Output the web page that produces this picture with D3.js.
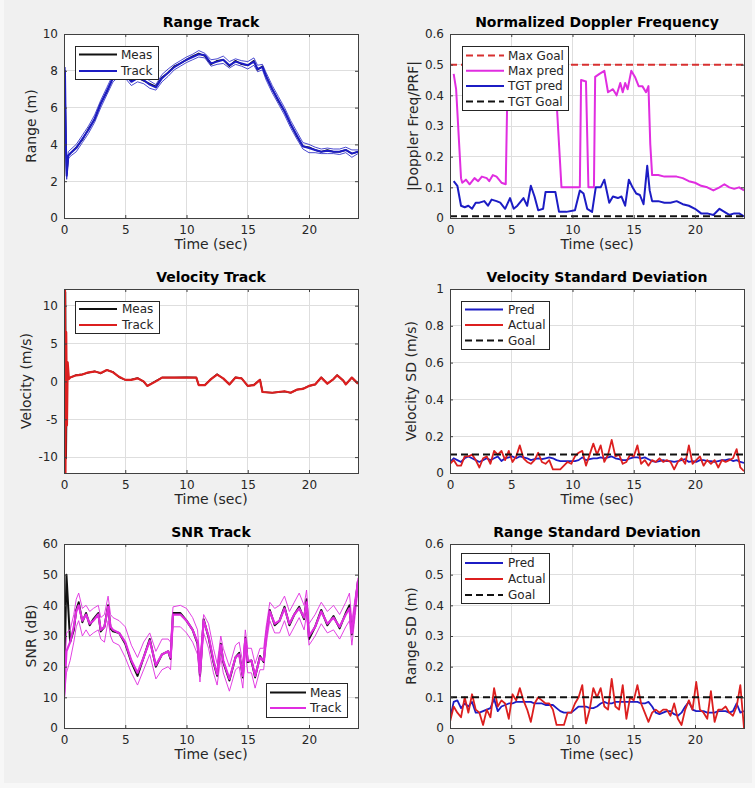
<!DOCTYPE html>
<html lang="en">
<head>
<meta charset="utf-8">
<title>Track Plots</title>
<script src="https://cdn.jsdelivr.net/npm/d3@7"></script>
<style>
body { margin:0; background:#f7f7f7; }
text { font-family: "DejaVu Sans", sans-serif; fill:#262626; }
</style>
</head>
<body>
<div id="main"></div>
<script>

//////////////////////////////// data ////////////////////////////////

var xTicks = [0, 5, 10, 15, 20]

// range track
var tRange = [0, 0.08, 0.15, 0.22, 0.35, 0.5, 1, 1.5, 2, 2.5, 3, 3.5, 4, 4.5, 5, 5.5, 6, 6.5, 7, 7.5, 8, 8.5, 9, 9.5, 10, 10.5, 11, 11.5, 12, 12.5, 13, 13.5, 14, 14.5, 15, 15.5, 15.8, 16.2, 16.5, 17, 17.5, 18, 18.5, 19, 19.5, 20, 20.5, 21, 21.5, 22, 22.5, 23, 23.5, 24]
var rangeMeas = [4.9, 7.2, 4.3, 2.4, 3.4, 3.5, 3.85, 4.25, 4.85, 5.35, 6.25, 6.85, 7.65, 7.95, 7.8, 7.45, 7.65, 7.45, 7.3, 7.15, 7.65, 7.9, 8.25, 8.4, 8.6, 8.8, 8.95, 8.8, 8.35, 8.55, 8.6, 8.25, 8.55, 8.35, 8.3, 8.55, 8.05, 8.25, 7.7, 7.0, 6.35, 5.8, 5.1, 4.45, 3.9, 3.85, 3.7, 3.6, 3.7, 3.6, 3.6, 3.7, 3.5, 3.6]
var rangeTrack = [4.9, 8.0, 4.2, 2.3, 3.4, 3.5, 3.8, 4.3, 4.8, 5.4, 6.2, 6.9, 7.6, 7.9, 7.8, 7.4, 7.6, 7.5, 7.25, 7.1, 7.6, 7.9, 8.2, 8.4, 8.6, 8.75, 8.9, 8.85, 8.4, 8.5, 8.6, 8.3, 8.5, 8.4, 8.3, 8.5, 8.1, 8.2, 7.7, 7.0, 6.4, 5.8, 5.1, 4.5, 3.9, 3.8, 3.7, 3.6, 3.65, 3.6, 3.6, 3.7, 3.5, 3.6]
var rangeUpper = [5.1, 8.2, 4.6, 2.6, 3.6, 3.7, 4.0, 4.5, 5.0, 5.6, 6.4, 7.1, 7.8, 8.1, 8.0, 7.6, 7.8, 7.7, 7.45, 7.25, 7.8, 8.1, 8.35, 8.55, 8.75, 8.9, 9.1, 8.95, 8.6, 8.65, 8.8, 8.5, 8.65, 8.55, 8.5, 8.7, 8.3, 8.35, 7.9, 7.2, 6.6, 6.0, 5.3, 4.7, 4.1, 4.0, 3.85, 3.75, 3.8, 3.75, 3.75, 3.85, 3.7, 3.7]
var rangeLower = [4.7, 7.6, 3.8, 2.1, 3.2, 3.35, 3.6, 4.1, 4.6, 5.2, 6.0, 6.7, 7.4, 7.7, 7.6, 7.2, 7.4, 7.3, 7.05, 6.95, 7.4, 7.7, 8.05, 8.25, 8.45, 8.6, 8.75, 8.7, 8.25, 8.35, 8.4, 8.15, 8.35, 8.25, 8.1, 8.3, 7.95, 8.05, 7.5, 6.8, 6.2, 5.6, 4.9, 4.3, 3.75, 3.55, 3.55, 3.5, 3.5, 3.5, 3.45, 3.55, 3.3, 3.5]
var rangeTicks = [0, 2, 4, 6, 8, 10]

// normalized doppler
var tMaxPred = [0.3, 0.5, 0.9, 1, 1.3, 1.6, 2, 2.3, 2.6, 3, 3.2, 3.5, 3.8, 4.2, 4.55, 4.7, 5.5, 6.5, 7.5, 8.6, 9.1, 10.6, 10.7, 11.1, 11.3, 11.75, 11.85, 12.2, 12.6, 12.9, 13.3, 13.6, 13.9, 14.1, 14.3, 14.5, 14.8, 15.1, 15.4, 15.7, 16, 16.2, 16.35, 16.5, 17, 17.5, 18, 18.5, 19, 19.5, 20, 20.5, 21, 21.5, 22, 22.4, 22.8, 23.2, 23.6, 24]
var maxPred = [0.47, 0.42, 0.13, 0.115, 0.125, 0.11, 0.13, 0.12, 0.135, 0.13, 0.12, 0.14, 0.135, 0.115, 0.11, 0.45, 0.46, 0.45, 0.46, 0.45, 0.1, 0.1, 0.45, 0.445, 0.1, 0.1, 0.46, 0.47, 0.48, 0.41, 0.42, 0.4, 0.44, 0.41, 0.44, 0.42, 0.48, 0.46, 0.43, 0.43, 0.41, 0.43, 0.24, 0.14, 0.14, 0.135, 0.135, 0.135, 0.13, 0.12, 0.115, 0.105, 0.1, 0.09, 0.1, 0.11, 0.1, 0.095, 0.1, 0.09]
var tTgtPred = [0.3, 0.6, 0.9, 1.2, 1.5, 1.8, 2.1, 2.4, 2.8, 3.1, 3.4, 3.8, 4.1, 4.5, 4.9, 5.2, 5.5, 6, 6.3, 6.6, 6.9, 7.2, 7.6, 7.8, 8.2, 8.6, 8.9, 9.5, 10.2, 10.6, 10.9, 11.2, 11.6, 11.9, 12.3, 12.6, 13, 13.3, 13.7, 14, 14.3, 14.6, 14.9, 15.2, 15.5, 15.8, 16.1, 16.3, 16.5, 17, 17.5, 18, 18.5, 19, 19.5, 20, 20.5, 21, 21.5, 22, 22.4, 22.8, 23.2, 23.6, 24]
var tgtPred = [0.12, 0.105, 0.04, 0.035, 0.04, 0.03, 0.05, 0.05, 0.055, 0.04, 0.06, 0.055, 0.05, 0.03, 0.065, 0.03, 0.04, 0.065, 0.04, 0.105, 0.07, 0.025, 0.03, 0.085, 0.085, 0.085, 0.02, 0.02, 0.025, 0.09, 0.08, 0.03, 0.02, 0.1, 0.1, 0.125, 0.05, 0.07, 0.065, 0.07, 0.04, 0.125, 0.1, 0.08, 0.075, 0.045, 0.17, 0.09, 0.055, 0.055, 0.05, 0.05, 0.055, 0.045, 0.04, 0.03, 0.015, 0.015, 0.01, 0.03, 0.02, 0.01, 0.015, 0.015, 0.005]
var maxGoal = 0.5
var tgtGoal = 0.006
var dopTicks = [0, 0.1, 0.2, 0.3, 0.4, 0.5, 0.6]

// velocity track
var tVel = [0, 0.08, 0.12, 0.18, 0.24, 0.3, 0.4, 0.5, 1, 1.5, 2, 2.5, 3, 3.5, 4, 4.5, 5, 5.5, 6, 6.5, 6.8, 7.5, 8, 9, 10, 10.8, 11, 11.5, 12, 12.5, 13, 13.5, 14, 14.5, 15, 15.5, 16, 16.2, 17, 18, 18.5, 19, 19.5, 20, 20.5, 21, 21.5, 22, 22.3, 22.8, 23, 23.5, 24]
var velMeas = [0, 0.5, 11.8, -10.2, 0.5, 0.6, 0.4, 0.5, 0.85, 0.95, 1.15, 1.35, 1.05, 1.5, 1.25, 0.55, 0.2, 0.25, 0.45, -0.05, -0.6, 0.05, 0.5, 0.5, 0.55, 0.5, -0.5, -0.45, 0.3, 0.95, 0.35, -0.4, 0.55, 0.4, -0.6, -0.45, 0.25, -1.4, -1.5, -1.35, -1.5, -1.1, -0.95, -0.6, -0.4, 0.55, -0.3, 0.3, 0.85, 0.1, -0.4, 0.5, -0.3]
var velTrack = [0, 12.2, -12.1, 6.5, -5.8, 2.5, 0.3, 0.5, 0.8, 0.9, 1.2, 1.3, 1.1, 1.5, 1.2, 0.6, 0.2, 0.2, 0.4, 0.0, -0.6, 0.0, 0.5, 0.5, 0.5, 0.5, -0.5, -0.5, 0.3, 0.9, 0.4, -0.4, 0.5, 0.4, -0.6, -0.5, 0.2, -1.4, -1.5, -1.3, -1.5, -1.1, -1.0, -0.6, -0.4, 0.5, -0.3, 0.3, 0.8, 0.1, -0.4, 0.5, -0.3]
var velTicks = [-10, -5, 0, 5, 10]

// snr track
var tSnr = [0, 0.2, 0.5, 0.8, 1, 1.2, 1.5, 1.8, 2.1, 2.4, 2.8, 3, 3.3, 3.6, 3.8, 4, 4.5, 5, 5.5, 6, 6.5, 7, 7.5, 8, 8.5, 8.7, 8.9, 9.5, 10, 10.5, 10.9, 11.1, 11.4, 11.8, 12.2, 12.5, 12.8, 13, 13.5, 14, 14.3, 14.6, 14.8, 15, 15.3, 15.6, 16, 16.3, 16.5, 16.8, 17.2, 17.6, 18, 18.4, 18.8, 19.2, 19.6, 19.8, 20, 20.5, 21, 21.5, 22, 22.5, 23, 23.3, 23.5, 24]
var snrMeas = [10, 50, 28, 32, 38.5, 41, 34.5, 37.5, 33.5, 35.5, 37.5, 31.5, 33, 40, 32.5, 31.5, 31, 27.5, 21.5, 17, 23, 29, 20, 24, 25, 22.5, 37.5, 37.5, 35, 32, 27.5, 17, 35.5, 29.5, 21.5, 17, 27.5, 21.5, 15.5, 23, 24.5, 16.5, 29.5, 21.5, 22, 16.5, 23.5, 21.5, 30, 38.5, 33.5, 35, 39.5, 33.5, 37, 39.5, 35.5, 42, 29, 33, 38.5, 33.5, 36.5, 32.5, 37.5, 40, 30.5, 48]
var snrTrack = [10, 25, 28, 33, 38, 40, 35, 37, 34, 35, 37, 32, 33, 39.5, 33, 32, 31, 28, 22, 18, 23, 28.5, 20.5, 24, 25, 23, 37, 37, 35, 32, 28, 18, 35, 30, 22, 17.5, 27, 22, 16, 23, 24, 17, 29, 22, 22, 17, 23, 22, 30, 38, 34, 35, 39, 34, 37, 39, 36, 41, 30, 33, 38, 34, 36, 33, 37, 39, 31, 48]
var snrUpper = [12, 31, 32, 37, 42, 44, 39, 40, 38, 39, 40, 36, 37, 43, 37, 36, 35, 33, 27, 23, 28, 31, 25, 29, 29, 28, 39.5, 40, 39, 36, 32, 22, 37, 34, 26, 21, 30, 26, 20, 27, 28, 21, 32, 26, 26, 21, 26, 26, 33, 41, 39, 40, 43, 38, 41, 44, 40, 45, 34, 37, 41, 38, 40, 37, 41, 44, 35, 49]
var snrLower = [8, 18, 22, 28, 33, 35, 30, 32, 30, 31, 32, 29, 28, 35, 30, 28, 27, 23, 18, 14, 19, 24, 16, 19, 20, 19, 33, 33, 31, 28, 24, 15, 31, 26, 18, 14, 23, 18, 12, 19, 20, 13, 25, 18, 18, 13, 19, 19, 27, 35, 31, 31, 35, 30, 33, 36, 32, 37, 27, 30, 34, 31, 32, 29, 33, 35, 27, 45]
var snrTicks = [0, 10, 20, 30, 40, 50, 60]

// standard deviations
var tSd = [0, 0.3, 0.6, 0.9, 1.2, 1.5, 1.8, 2.1, 2.4, 2.7, 3, 3.3, 3.6, 3.9, 4.2, 4.5, 4.8, 5.1, 5.4, 5.7, 6, 6.3, 6.6, 6.9, 7.2, 7.5, 7.8, 8.1, 8.4, 8.7, 9, 9.3, 9.6, 9.9, 10.2, 10.5, 10.8, 11.1, 11.4, 11.7, 12, 12.3, 12.6, 12.9, 13.2, 13.5, 13.8, 14.1, 14.4, 14.7, 15, 15.3, 15.6, 15.9, 16.2, 16.5, 16.8, 17.1, 17.4, 17.7, 18, 18.3, 18.6, 18.9, 19.2, 19.5, 19.8, 20.1, 20.4, 20.7, 21, 21.3, 21.6, 21.9, 22.2, 22.5, 22.8, 23.1, 23.4, 23.7, 24]
var velSdPred = [0.06, 0.08, 0.07, 0.06, 0.08, 0.09, 0.08, 0.07, 0.06, 0.07, 0.08, 0.07, 0.08, 0.09, 0.065, 0.08, 0.085, 0.09, 0.08, 0.09, 0.085, 0.08, 0.07, 0.075, 0.08, 0.075, 0.08, 0.085, 0.08, 0.07, 0.065, 0.065, 0.065, 0.065, 0.065, 0.07, 0.085, 0.07, 0.075, 0.08, 0.08, 0.085, 0.08, 0.085, 0.09, 0.08, 0.075, 0.07, 0.07, 0.08, 0.085, 0.085, 0.08, 0.085, 0.075, 0.065, 0.06, 0.065, 0.07, 0.065, 0.065, 0.06, 0.065, 0.07, 0.075, 0.06, 0.065, 0.06, 0.07, 0.07, 0.065, 0.065, 0.06, 0.065, 0.07, 0.07, 0.075, 0.065, 0.07, 0.06, 0.055]
var velSdActual = [0.05, 0.07, 0.04, 0.04, 0.09, 0.09, 0.1, 0.07, 0.03, 0.08, 0.09, 0.05, 0.12, 0.1, 0.12, 0.07, 0.12, 0.06, 0.09, 0.15, 0.08, 0.06, 0.05, 0.07, 0.11, 0.06, 0.05, 0.07, 0.02, 0.02, 0.02, 0.04, 0.06, 0.05, 0.09, 0.11, 0.12, 0.04, 0.1, 0.16, 0.1, 0.15, 0.06, 0.1, 0.18, 0.09, 0.1, 0.05, 0.06, 0.1, 0.09, 0.15, 0.05, 0.07, 0.04, 0.07, 0.06, 0.08, 0.06, 0.07, 0.06, 0.02, 0.06, 0.08, 0.05, 0.15, 0.05, 0.07, 0.09, 0.04, 0.07, 0.05, 0.07, 0.03, 0.07, 0.06, 0.07, 0.08, 0.13, 0.03, 0.01]
var velSdGoal = 0.1
var velSdTicks = [0, 0.2, 0.4, 0.6, 0.8, 1]

var rngSdPred = [0.03, 0.085, 0.09, 0.065, 0.08, 0.07, 0.085, 0.05, 0.05, 0.055, 0.06, 0.065, 0.095, 0.055, 0.07, 0.075, 0.08, 0.08, 0.085, 0.085, 0.085, 0.085, 0.085, 0.08, 0.08, 0.08, 0.075, 0.075, 0.075, 0.065, 0.055, 0.05, 0.05, 0.05, 0.06, 0.07, 0.07, 0.07, 0.065, 0.065, 0.07, 0.08, 0.085, 0.08, 0.08, 0.085, 0.085, 0.085, 0.085, 0.085, 0.085, 0.085, 0.08, 0.08, 0.085, 0.07, 0.05, 0.045, 0.05, 0.055, 0.055, 0.045, 0.04, 0.05, 0.07, 0.085, 0.06, 0.055, 0.055, 0.055, 0.05, 0.05, 0.05, 0.055, 0.055, 0.055, 0.05, 0.055, 0.08, 0.05, 0.055]
var rngSdActual = [0.02, 0.07, 0.05, 0.035, 0.1, 0.05, 0.11, 0.06, 0.05, 0.01, 0.06, 0.035, 0.13, 0.07, 0.09, 0.08, 0.03, 0.11, 0.09, 0.13, 0.09, 0.06, 0.02, 0.08, 0.1, 0.09, 0.08, 0.08, 0.06, 0.01, 0.01, 0.01, 0.05, 0.05, 0.08, 0.1, 0.14, 0.015, 0.06, 0.13, 0.1, 0.13, 0.07, 0.06, 0.16, 0.07, 0.06, 0.14, 0.03, 0.1, 0.09, 0.14, 0.08, 0.05, 0.02, 0.05, 0.06, 0.05, 0.06, 0.06, 0.04, 0.08, 0.03, 0.01, 0.06, 0.09, 0.06, 0.15, 0.06, 0.05, 0.03, 0.12, 0.02, 0.06, 0.06, 0.07, 0.05, 0.04, 0.07, 0.14, 0.0]
var rngSdGoal = 0.1
var rngSdTicks = [0, 0.1, 0.2, 0.3, 0.4, 0.5, 0.6]

//////////////////////////////// drawing ////////////////////////////////

var BLUE = "#1c1cc4", RED = "#dc1f1f", MAG = "#e02de0", BLACK = "#111"
var GOALRED = "#d83030"

var svg = d3.select("#main").append("svg").attr("width", 755).attr("height", 788)
svg.append("rect").attr("x", 4).attr("y", 0).attr("width", 748).attr("height", 783).attr("fill", "#f0f0f0")

var fmt = function(d){ return String(Math.round(d * 1000) / 1000) }

function makePanel(p){
  var g = svg.append("g").attr("transform", "translate(" + p.left + "," + p.top + ")")
  var x = d3.scaleLinear().domain([0, 24]).range([0, p.w])
  var y = d3.scaleLinear().domain(p.yDomain).range([p.h, 0])

  g.append("rect").attr("width", p.w).attr("height", p.h).attr("fill", "white")

  // grid
  g.selectAll(".gx").data(xTicks).enter().append("line")
    .attr("x1", function(d){ return x(d) }).attr("x2", function(d){ return x(d) })
    .attr("y1", 0).attr("y2", p.h)
    .attr("stroke", "#dedede").attr("shape-rendering", "crispEdges")
  g.selectAll(".gy").data(p.yTicks).enter().append("line")
    .attr("y1", function(d){ return y(d) }).attr("y2", function(d){ return y(d) })
    .attr("x1", 0).attr("x2", p.w)
    .attr("stroke", "#dedede").attr("shape-rendering", "crispEdges")

  g.append("clipPath").attr("id", "clip" + p.id)
    .append("rect").attr("width", p.w).attr("height", p.h)
  var plot = g.append("g").attr("clip-path", "url(#clip" + p.id + ")")

  return {g: g, plot: plot, x: x, y: y, p: p}
}

function finishPanel(P){
  var p = P.p, g = P.g
  var ax = g.append("g").attr("class", "axes")

  ax.append("g").attr("transform", "translate(0," + p.h + ")")
    .call(d3.axisBottom(P.x).tickValues(xTicks).tickFormat(fmt).tickSizeInner(-3).tickSizeOuter(0).tickPadding(7))
  ax.append("g")
    .call(d3.axisLeft(P.y).tickValues(p.yTicks).tickFormat(fmt).tickSizeInner(-3).tickSizeOuter(0).tickPadding(6))
  ax.append("g")
    .call(d3.axisTop(P.x).tickValues(xTicks).tickFormat("").tickSizeInner(-3).tickSizeOuter(0))
  ax.append("g").attr("transform", "translate(" + p.w + ",0)")
    .call(d3.axisRight(P.y).tickValues(p.yTicks).tickFormat("").tickSizeInner(-3).tickSizeOuter(0))

  ax.selectAll(".domain").remove()
  ax.selectAll(".tick line").attr("stroke", "#404040")
  ax.selectAll(".tick text").attr("font-size", 12).attr("fill", "#262626")
    .style("font-family", "DejaVu Sans, sans-serif")

  g.append("rect").attr("width", p.w).attr("height", p.h)
    .attr("fill", "none").attr("stroke", "#404040").attr("shape-rendering", "crispEdges")

  g.append("text").attr("x", p.w / 2).attr("y", -7)
    .attr("text-anchor", "middle").attr("font-size", 14).attr("font-weight", "bold")
    .style("fill", "#000").text(p.title)
  g.append("text").attr("x", p.w / 2).attr("y", p.h + 31)
    .attr("text-anchor", "middle").attr("font-size", 14).text("Time (sec)")
  g.append("text")
    .attr("transform", "translate(" + (-p.ylabGap) + "," + (p.h / 2) + ") rotate(-90)")
    .attr("text-anchor", "middle").attr("font-size", 14).text(p.ylabel)
}

function drawLine(P, t, v, color, width, dash){
  var line = d3.line().x(function(d){ return P.x(d[0]) }).y(function(d){ return P.y(d[1]) })
  P.plot.append("path").datum(d3.zip(t, v)).attr("d", line)
    .attr("fill", "none").attr("stroke", color).attr("stroke-width", width)
    .attr("stroke-linejoin", "round")
    .attr("stroke-dasharray", dash || null)
}

function drawGoal(P, val, color){
  drawLine(P, [0, 24], [val, val], color, 2, "7,4")
}

function legend(P, b, items){
  var lg = P.g.append("g").attr("transform", "translate(" + b.x + "," + b.y + ")")
  lg.append("rect").attr("width", b.w).attr("height", b.h)
    .attr("fill", "white").attr("stroke", "#262626").attr("shape-rendering", "crispEdges")
  items.forEach(function(it, i){
    var yy = b.r0 + i * b.dy
    lg.append("line").attr("x1", b.s0).attr("x2", b.s1).attr("y1", yy).attr("y2", yy)
      .attr("stroke", it.color).attr("stroke-width", 2)
      .attr("stroke-dasharray", it.dash || null)
    lg.append("text").attr("x", b.tx).attr("y", yy).attr("dy", "0.35em")
      .attr("font-size", 12).text(it.label)
  })
}

// ---- Range Track ----
var P1 = makePanel({id: 1, left: 64, top: 34, w: 294, h: 184, yDomain: [0, 10], yTicks: rangeTicks,
  title: "Range Track", ylabel: "Range (m)", ylabGap: 28})
drawLine(P1, tRange, rangeMeas, BLACK, 1.5)
drawLine(P1, tRange, rangeUpper, BLUE, 0.8)
drawLine(P1, tRange, rangeLower, BLUE, 0.8)
drawLine(P1, tRange, rangeTrack, BLUE, 2)
finishPanel(P1)
legend(P1, {x: 11, y: 12, w: 83, h: 33, r0: 8.5, dy: 16.5, s0: 4, s1: 42, tx: 46},
  [{label: "Meas", color: BLACK}, {label: "Track", color: BLUE}])

// ---- Normalized Doppler Frequency ----
var P2 = makePanel({id: 2, left: 450, top: 34, w: 294, h: 184, yDomain: [0, 0.6], yTicks: dopTicks,
  title: "Normalized Doppler Frequency", ylabel: "|Doppler Freq/PRF|", ylabGap: 32})
drawGoal(P2, maxGoal, GOALRED)
drawLine(P2, tMaxPred, maxPred, MAG, 2)
drawLine(P2, tTgtPred, tgtPred, BLUE, 2)
drawGoal(P2, tgtGoal, BLACK)
finishPanel(P2)
legend(P2, {x: 12, y: 12, w: 106, h: 64, r0: 9.5, dy: 15.3, s0: 4, s1: 42, tx: 46},
  [{label: "Max Goal", color: GOALRED, dash: "7,4"}, {label: "Max pred", color: MAG},
   {label: "TGT pred", color: BLUE}, {label: "TGT Goal", color: BLACK, dash: "7,4"}])

// ---- Velocity Track ----
var P3 = makePanel({id: 3, left: 64, top: 289, w: 294, h: 184, yDomain: [-12.1, 12.2], yTicks: velTicks,
  title: "Velocity Track", ylabel: "Velocity (m/s)", ylabGap: 33})
drawLine(P3, tVel, velMeas, BLACK, 1.5)
drawLine(P3, tVel, velTrack, RED, 2.2)
finishPanel(P3)
legend(P3, {x: 11, y: 12, w: 84, h: 32, r0: 8, dy: 16, s0: 4, s1: 42, tx: 47},
  [{label: "Meas", color: BLACK}, {label: "Track", color: RED}])

// ---- Velocity Standard Deviation ----
var P4 = makePanel({id: 4, left: 450, top: 289, w: 294, h: 184, yDomain: [0, 1], yTicks: velSdTicks,
  title: "Velocity Standard Deviation", ylabel: "Velocity SD (m/s)", ylabGap: 34})
drawLine(P4, tSd, velSdPred, BLUE, 1.8)
drawLine(P4, tSd, velSdActual, RED, 1.8)
drawGoal(P4, velSdGoal, BLACK)
finishPanel(P4)
legend(P4, {x: 11, y: 12, w: 88, h: 48, r0: 8.5, dy: 15.5, s0: 4, s1: 42, tx: 47},
  [{label: "Pred", color: BLUE}, {label: "Actual", color: RED}, {label: "Goal", color: BLACK, dash: "7,4"}])

// ---- SNR Track ----
var P5 = makePanel({id: 5, left: 64, top: 544, w: 294, h: 184, yDomain: [0, 60], yTicks: snrTicks,
  title: "SNR Track", ylabel: "SNR (dB)", ylabGap: 28})
drawLine(P5, tSnr, snrMeas, BLACK, 2)
drawLine(P5, tSnr, snrUpper, MAG, 0.9)
drawLine(P5, tSnr, snrLower, MAG, 0.9)
drawLine(P5, tSnr, snrTrack, MAG, 2.2)
finishPanel(P5)
legend(P5, {x: 202, y: 139, w: 81, h: 34, r0: 9.5, dy: 15.5, s0: 4, s1: 40, tx: 44},
  [{label: "Meas", color: BLACK}, {label: "Track", color: MAG}])

// ---- Range Standard Deviation ----
var P6 = makePanel({id: 6, left: 450, top: 544, w: 294, h: 184, yDomain: [0, 0.6], yTicks: rngSdTicks,
  title: "Range Standard Deviation", ylabel: "Range SD (m)", ylabGap: 34})
drawLine(P6, tSd, rngSdPred, BLUE, 1.8)
drawLine(P6, tSd, rngSdActual, RED, 1.8)
drawGoal(P6, rngSdGoal, BLACK)
finishPanel(P6)
legend(P6, {x: 11, y: 9, w: 88, h: 50, r0: 10, dy: 16, s0: 4, s1: 42, tx: 47},
  [{label: "Pred", color: BLUE}, {label: "Actual", color: RED}, {label: "Goal", color: BLACK, dash: "7,4"}])

</script>
</body>
</html>
